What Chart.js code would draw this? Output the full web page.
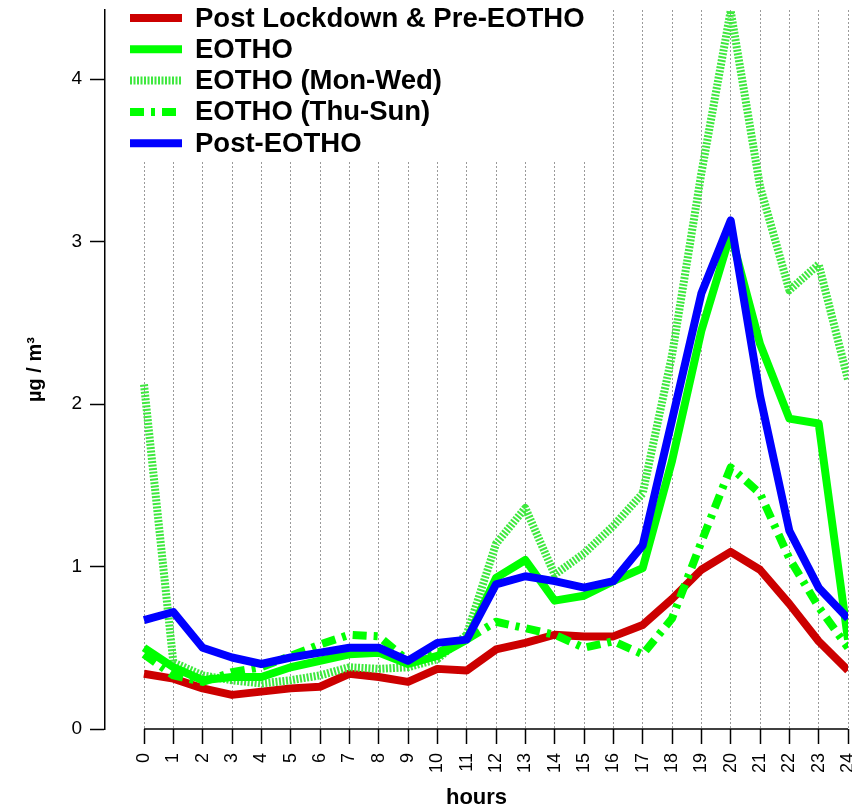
<!DOCTYPE html>
<html>
<head>
<meta charset="utf-8">
<script src="https://cdn.jsdelivr.net/npm/chart.js@4"></script>
<style>
  body { margin: 0; background: #fff; }
  #wrap { width: 852px; height: 812px; }
</style>
</head>
<body>
<div id="wrap"><canvas id="line-chart"></canvas></div>
<script>
var hours = [0, 1, 2, 3, 4, 5, 6, 7, 8, 9, 10, 11, 12, 13, 14, 15, 16, 17, 18, 19, 20, 21, 22, 23, 24];
var yTicks = [0, 1, 2, 3, 4];

var seriesNames = [
  "Post Lockdown & Pre-EOTHO",
  "EOTHO",
  "EOTHO (Mon-Wed)",
  "EOTHO (Thu-Sun)",
  "Post-EOTHO",
];

var preEotho = [0.34, 0.31, 0.25, 0.21, 0.23, 0.25, 0.26, 0.34, 0.32, 0.29, 0.37, 0.36, 0.49, 0.53, 0.58, 0.57, 0.57, 0.64, 0.80, 0.98, 1.09, 0.98, 0.77, 0.54, 0.36];
var eotho = [0.50, 0.38, 0.30, 0.32, 0.32, 0.38, 0.42, 0.46, 0.47, 0.40, 0.45, 0.55, 0.93, 1.04, 0.79, 0.82, 0.91, 0.99, 1.65, 2.45, 3.05, 2.37, 1.91, 1.88, 0.55];
var eothoMonWed = [2.12, 0.41, 0.33, 0.30, 0.28, 0.30, 0.33, 0.38, 0.37, 0.38, 0.43, 0.58, 1.14, 1.36, 0.95, 1.08, 1.25, 1.45, 2.30, 3.42, 4.42, 3.34, 2.70, 2.86, 2.15];
var eothoThuSun = [0.46, 0.33, 0.29, 0.35, 0.38, 0.45, 0.52, 0.58, 0.57, 0.42, 0.47, 0.55, 0.66, 0.62, 0.58, 0.50, 0.54, 0.46, 0.68, 1.15, 1.61, 1.45, 1.05, 0.75, 0.50];
var postEotho = [0.67, 0.72, 0.50, 0.44, 0.40, 0.44, 0.47, 0.50, 0.50, 0.42, 0.53, 0.55, 0.89, 0.94, 0.91, 0.87, 0.91, 1.13, 1.90, 2.68, 3.13, 2.05, 1.22, 0.87, 0.68];

function pts(vals) {
  return hours.map(function (h, i) { return { x: h, y: vals[i] }; });
}

var FONT = "'Liberation Sans', Arial, sans-serif";

// R style legend drawn over the plot with a white box
var legendBox = {
  id: "legendBox",
  afterDatasetsDraw: function (chart) {
    var ctx = chart.ctx;
    ctx.save();
    ctx.fillStyle = "#fff";
    ctx.fillRect(107, 0, 493, 160);
    chart.data.datasets.forEach(function (ds, i) {
      var y = 18 + i * 31.3;
      ctx.beginPath();
      ctx.strokeStyle = ds.borderColor;
      ctx.lineWidth = ds.borderWidth;
      ctx.lineCap = "butt";
      ctx.setLineDash(ds.borderDash || []);
      ctx.moveTo(130, y);
      ctx.lineTo(182, y);
      ctx.stroke();
      ctx.setLineDash([]);
      ctx.fillStyle = "#000";
      ctx.font = "bold 27.5px " + FONT;
      ctx.textBaseline = "middle";
      ctx.fillText(ds.label, 195, y + 1);
    });
    ctx.restore();
  },
  // x axis line only spans 0..24, like R
  afterDraw: function (chart) {
    var xs = chart.scales.x;
    var ctx = chart.ctx;
    ctx.save();
    ctx.strokeStyle = "#000";
    ctx.lineWidth = 1.5;
    ctx.beginPath();
    ctx.moveTo(xs.getPixelForValue(0), chart.chartArea.bottom);
    ctx.lineTo(xs.getPixelForValue(24), chart.chartArea.bottom);
    ctx.stroke();
    ctx.restore();
  },
};

var config = {
  type: "line",
  data: {
    datasets: [
      {
        label: seriesNames[0],
        data: pts(preEotho),
        borderColor: "#cc0000",
        borderWidth: 8,
        order: 5,
      },
      {
        label: seriesNames[1],
        data: pts(eotho),
        borderColor: "#00ff00",
        borderWidth: 8,
        order: 3,
      },
      {
        label: seriesNames[2],
        data: pts(eothoMonWed),
        borderColor: "#3ee83e",
        borderWidth: 8,
        borderDash: [2, 1.5],
        order: 4,
      },
      {
        label: seriesNames[3],
        data: pts(eothoThuSun),
        borderColor: "#00ff00",
        borderWidth: 8,
        borderDash: [14, 7, 4, 7],
        order: 2,
      },
      {
        label: seriesNames[4],
        data: pts(postEotho),
        borderColor: "#0000ff",
        borderWidth: 8,
        order: 1,
      },
    ],
  },
  options: {
    responsive: true,
    maintainAspectRatio: false,
    animation: false,
    layout: { padding: { top: 10, right: 4, left: 0, bottom: 0 } },
    elements: {
      point: { radius: 0 },
      line: { tension: 0, borderJoinStyle: "round", borderCapStyle: "butt", fill: false },
    },
    plugins: {
      legend: { display: false },
      tooltip: { enabled: false },
    },
    scales: {
      x: {
        type: "linear",
        min: -1.33,
        max: 24,
        afterBuildTicks: function (s) {
          s.ticks = hours.map(function (h) { return { value: h }; });
        },
        afterFit: function (s) {
          s.height = 83;
          s.paddingLeft = 0;
          s.paddingRight = 0;
        },
        border: { display: false, dash: [2, 2] },
        grid: {
          color: "#9a9a9a",
          lineWidth: 1,
          drawTicks: true,
          tickLength: 15,
          tickColor: "#000",
          tickWidth: 1.5,
          tickBorderDash: [],
        },
        ticks: {
          autoSkip: false,
          minRotation: 90,
          maxRotation: 90,
          padding: 9,
          color: "#000",
          font: { family: FONT, size: 18 },
        },
        title: {
          display: true,
          text: "hours",
          color: "#000",
          font: { family: FONT, size: 22, weight: "bold" },
          padding: { top: 0, bottom: 1 },
        },
      },
      y: {
        min: 0,
        max: 4.425,
        afterBuildTicks: function (s) {
          s.ticks = yTicks.map(function (v) { return { value: v }; });
        },
        afterFit: function (s) {
          s.width = 105;
          s.paddingTop = 0;
          s.paddingBottom = 0;
        },
        border: { display: true, color: "#000", width: 1.5 },
        grid: {
          drawOnChartArea: false,
          drawTicks: true,
          tickLength: 15,
          tickColor: "#000",
          tickWidth: 1.5,
        },
        ticks: {
          padding: 8,
          color: "#000",
          font: { family: FONT, size: 19 },
        },
        title: {
          display: true,
          text: "µg / m³",
          color: "#000",
          font: { family: FONT, size: 20, weight: "bold" },
          padding: { top: 23, bottom: 0 },
        },
      },
    },
  },
  plugins: [legendBox],
};

var ctxOne = document.getElementById("line-chart").getContext("2d");
new Chart(ctxOne, config);
</script>
</body>
</html>
